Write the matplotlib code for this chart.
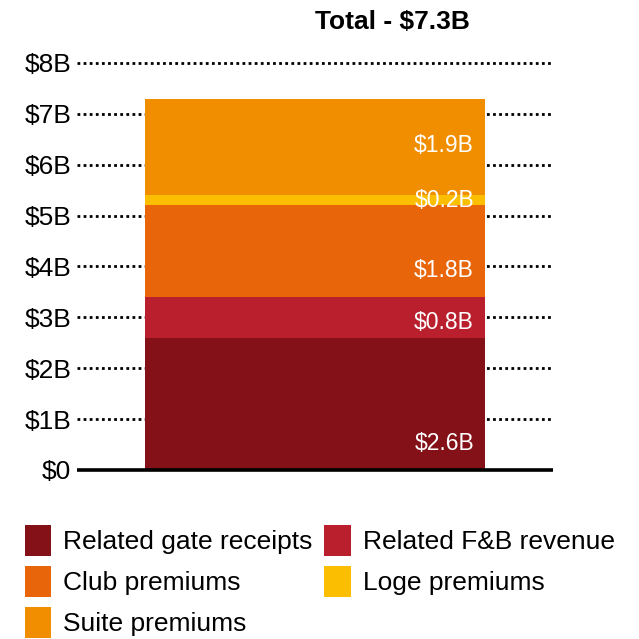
import numpy as np
import matplotlib.pyplot as plt

plt.rcParams['font.family'] = ['Liberation Sans', 'DejaVu Sans']

# data
categories = ['Related gate receipts', 'Related F&B revenue', 'Club premiums',
              'Loge premiums', 'Suite premiums']
values = [2.6, 0.8, 1.8, 0.2, 1.9]
value_labels = ['$2.6B', '$0.8B', '$1.8B', '$0.2B', '$1.9B']
title_text = 'Total - $7.3B'
tick_values = [0, 1, 2, 3, 4, 5, 6, 7, 8]
tick_labels = ['$0', '$1B', '$2B', '$3B', '$4B', '$5B', '$6B', '$7B', '$8B']

colors = ['#841118', '#BA1F2D', '#E9650A', '#FBBE00', '#F18E00']
# where each value label sits (data units)
label_y = [0.53, 2.89, 3.93, 5.30, 6.37]

fig = plt.figure(figsize=(6.39, 6.39), dpi=100)
ax = fig.add_axes([0.1205, 0.2645, 0.745, 0.637])

bar_w = 0.716
bottom = 0.0
handles = []
for name, v, c in zip(categories, values, colors):
    h = ax.bar(0, v, width=bar_w, bottom=bottom, color=c, label=name, zorder=3)
    handles.append(h)
    bottom += v

for txt, y in zip(value_labels, label_y):
    ax.text(bar_w / 2 - 0.024, y, txt, ha='right', va='center',
            color='white', fontsize=16.5, zorder=4)

ax.text(0, 8.80, title_text, ha='left', va='center', fontsize=19,
        fontweight='bold', clip_on=False)

ax.set_xlim(-0.5, 0.5)
ax.set_ylim(0, 8)
ax.set_yticks(tick_values)
ax.set_yticklabels(tick_labels, fontsize=19)
ax.set_xticks([])
ax.tick_params(axis='y', length=0, pad=4)
for s in ax.spines.values():
    s.set_visible(False)

for t in tick_values[1:]:
    ax.axhline(t, color='black', linestyle=(0, (1, 1.2)), linewidth=2,
               zorder=1, clip_on=False)
ax.axhline(0, color='black', linewidth=2.6, zorder=5, clip_on=False,
           solid_capstyle='butt')

# legend is filled column-wise
order = [0, 2, 4, 1, 3]
fig.legend([handles[i] for i in order], [categories[i] for i in order],
           ncol=2, loc='upper left', bbox_to_anchor=(0.039, 0.178),
           frameon=False, fontsize=19, handlelength=1.0, handleheight=1.4,
           handletextpad=0.45, columnspacing=0.45, labelspacing=0.4,
           borderpad=0, borderaxespad=0)

fig.savefig('out.png', dpi=100)
